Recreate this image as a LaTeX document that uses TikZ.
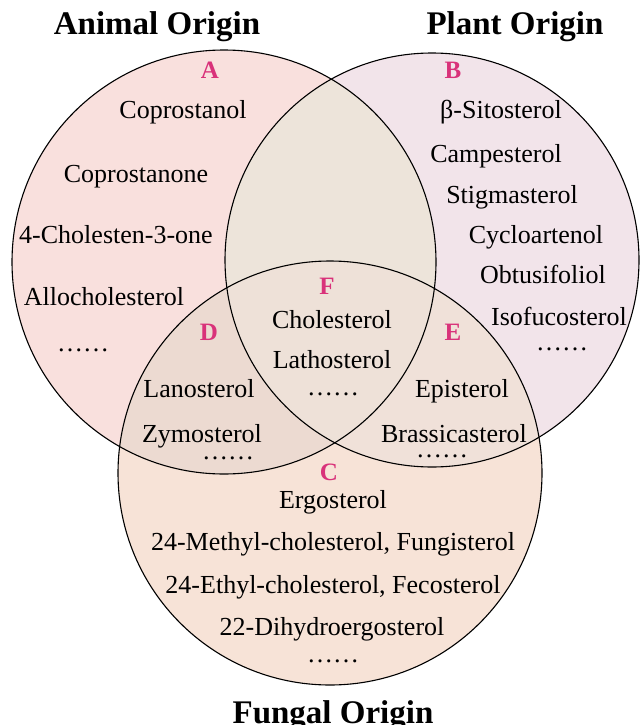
\documentclass[tikz,border=0pt]{standalone}
\usepackage{fontspec}
\setmainfont{Liberation Serif}
\definecolor{cA}{HTML}{F9E0DD}
\definecolor{cB}{HTML}{F2E4EA}
\definecolor{cC}{HTML}{F7E3D7}
\definecolor{cAB}{HTML}{EDE4DA}
\definecolor{cD}{HTML}{ECDAD1}
\definecolor{cE}{HTML}{F0E1D9}
\definecolor{cF}{HTML}{EEE1D8}
\definecolor{lab}{HTML}{D9327A}
\tikzset{
  item/.style={anchor=base, inner sep=0pt, font=\fontsize{26}{30}\selectfont},
  dots/.style={anchor=base, inner sep=0pt, text height=3pt, text depth=0pt, font=\fontsize{26}{30}\selectfont},
  letter/.style={anchor=base, inner sep=0pt, text=lab, font=\fontsize{25}{30}\selectfont\bfseries},
  title/.style={anchor=base, inner sep=0pt, font=\fontsize{33}{38}\selectfont\bfseries},
  ring/.style={draw=black, line width=1.1pt}
}
\begin{document}
\begin{tikzpicture}[x=1pt,y=-1pt]
\useasboundingbox (0,0) rectangle (641,725);
\coordinate (ca) at (224,262);
\coordinate (cb) at (432,260);
\coordinate (cc) at (330,473);
% base fills
\fill[cA] (ca) circle[radius=212];
\fill[cB] (cb) circle[radius=207];
\fill[cC] (cc) circle[radius=212];
\begin{scope}
  \clip (ca) circle[radius=212];
  \fill[cAB] (cb) circle[radius=207];
  \fill[cD] (cc) circle[radius=212];
\end{scope}
\begin{scope}
  \clip (cb) circle[radius=207];
  \fill[cE] (cc) circle[radius=212];
\end{scope}
\begin{scope}
  \clip (ca) circle[radius=212];
  \clip (cb) circle[radius=207];
  \fill[cF] (cc) circle[radius=212];
\end{scope}
\draw[ring] (ca) circle[radius=212];
\draw[ring] (cb) circle[radius=207];
\draw[ring] (cc) circle[radius=212];
% titles
\node[title] (tA) at (157,35) {Animal Origin};
\node[title] (tB) at (515,35) {Plant Origin};
\node[title] (tC) at (333,723) {Fungal Origin};
% letters
\node[letter] (lA) at (210,78) {A};
\node[letter] (lB) at (453,78) {B};
\node[letter] (lF) at (327,294) {F};
\node[letter] (lD) at (209,340) {D};
\node[letter] (lE) at (453,340) {E};
\node[letter] (lC) at (329,480) {C};
% A
\node[item] (a1) at (183,118) {Coprostanol};
\node[item] (a2) at (136,182) {Coprostanone};
\node[item] (a3) at (116,243) {4-Cholesten-3-one};
\node[item] (a4) at (104,305) {Allocholesterol};
\node[dots] (a5) at (83,351) {……};
% B
\node[item] (b1) at (501,118) {β-Sitosterol};
\node[item] (b2) at (496,162) {Campesterol};
\node[item] (b3) at (512,203) {Stigmasterol};
\node[item] (b4) at (536,243) {Cycloartenol};
\node[item] (b5) at (543,283) {Obtusifoliol};
\node[item] (b6) at (559,325) {Isofucosterol};
\node[dots] (b7) at (562,350) {……};
% F
\node[item] (f1) at (332,328) {Cholesterol};
\node[item] (f2) at (332,368) {Lathosterol};
\node[dots] (f3) at (333,395) {……};
% D
\node[item] (d1) at (199,397) {Lanosterol};
\node[item] (d2) at (202,442) {Zymosterol};
\node[dots] (d3) at (228,459) {……};
% E
\node[item] (e1) at (462,397) {Episterol};
\node[item] (e2) at (454,442) {Brassicasterol};
\node[dots] (e3) at (442,457) {……};
% C
\node[item] (c1) at (333,508) {Ergosterol};
\node[item] (c2) at (333,550) {24-Methyl-cholesterol, Fungisterol};
\node[item] (c3) at (333,593) {24-Ethyl-cholesterol, Fecosterol};
\node[item] (c4) at (332,635) {22-Dihydroergosterol};
\node[dots] (c5) at (333,662) {……};
\end{tikzpicture}
\end{document}
